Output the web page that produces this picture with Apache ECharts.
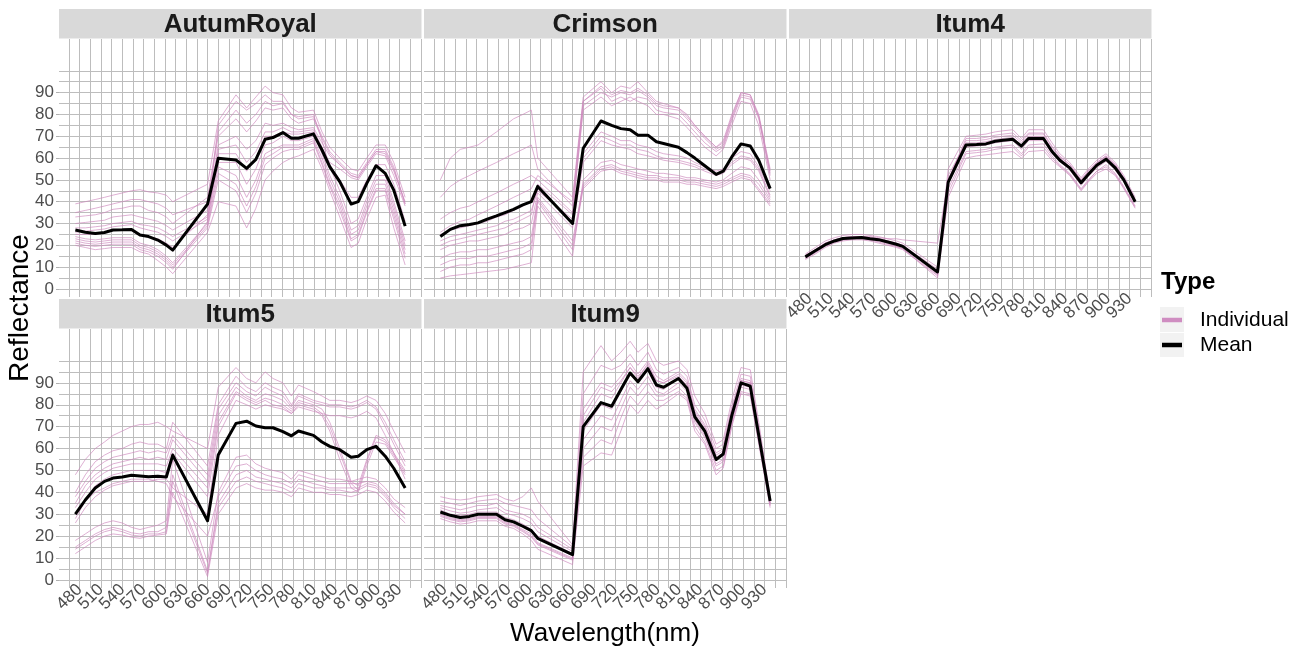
<!DOCTYPE html>
<html><head><meta charset="utf-8">
<script src="https://cdn.jsdelivr.net/npm/echarts@6/dist/echarts.min.js"></script>
<style>html,body{margin:0;padding:0;background:#fff}#c{width:1305px;height:652px}</style>
</head><body><div id="c"></div>
<script>
// ---------- data ----------
const wavelengths = [474, 488, 502, 515, 527, 540, 553, 565, 577, 590, 602, 611, 660, 675, 700, 715, 728, 741, 752, 766, 778, 788, 809, 821, 832, 846, 862, 872, 884, 897, 910, 922, 938];
const panelNames = ['AutumRoyal', 'Crimson', 'Itum4', 'Itum5', 'Itum9'];
const xTickLabelsA = [480, 540, 600, 660, 720, 780, 840, 900];
const xTickLabelsB = [510, 570, 630, 690, 750, 810, 870, 930];
const xGridValues = [465, 480, 495, 510, 525, 540, 555, 570, 585, 600, 615, 630, 645, 660, 675, 690, 705, 720, 735, 750, 765, 780, 795, 810, 825, 840, 855, 870, 885, 900, 915, 930, 945, 960];
const yTickLabels = [0, 10, 20, 30, 40, 50, 60, 70, 80, 90];
const yGridValues = [0, 5, 10, 15, 20, 25, 30, 35, 40, 45, 50, 55, 60, 65, 70, 75, 80, 85, 90, 95, 100];

const meanAutumRoyal = [27, 26, 25.4, 25.9, 27, 27.1, 27.3, 24.7, 24, 22.4, 20.1, 17.8, 38.9, 59.9, 59.1, 55.3, 59.4, 68.6, 69.4, 71.7, 69.1, 69.1, 71.1, 63.7, 56, 49.2, 38.9, 40, 48.4, 56.5, 53, 45.3, 28.8];
const meanCrimson = [24, 27.3, 29, 29.5, 30.3, 32, 33.5, 35, 36.5, 38.5, 40, 47, 30, 64.5, 77, 75, 73.5, 73, 70.5, 70.5, 67.5, 66.7, 65, 62.5, 60, 56.5, 52.5, 54, 60.5, 66.5, 65.5, 59, 46];
const meanItum4 = [14.7, 17.5, 20.3, 22, 23.1, 23.4, 23.6, 23, 22.6, 21.5, 20.5, 19.5, 7.8, 49, 66, 66.2, 66.5, 67.7, 68.2, 68.6, 65.5, 69, 69, 63, 59, 55.5, 48.7, 52.5, 56.7, 59.5, 55.5, 50, 40];
const meanItum5 = [30, 36.5, 42, 45, 46.5, 47, 47.8, 47.5, 47.1, 47.3, 47, 57, 27, 57, 71.5, 72.5, 70.3, 69.5, 69.5, 67.7, 65.8, 68, 66, 63, 61, 59.5, 56, 56.5, 59.5, 61, 56.5, 51, 42];
const meanItum9 = [31, 29.5, 28.5, 29, 30, 30, 30, 27.5, 26.5, 24.5, 22.5, 19, 11.5, 70, 81, 79.3, 87, 94.5, 90.5, 96.5, 89, 88, 92, 87.5, 74.5, 68, 55, 57.5, 75, 90, 88.5, 66, 36];

const indivAutumRoyal = [
  [39, 40, 41, 42, 43, 44, 45, 45.5, 44.5, 44, 43, 40, 48, 77, 89, 83, 88, 93, 90, 89, 83, 81, 82, 72, 65, 60, 55, 54, 60, 66, 66, 58, 42],
  [33, 33.5, 34, 35, 36.5, 37, 38, 38, 36, 35, 33, 30, 42, 72, 82, 76, 80, 86, 84, 85, 80, 78, 79, 70, 63, 58, 53, 52, 58, 64, 64, 56, 39],
  [30, 30.5, 31, 31.5, 33, 33.5, 34, 33, 32, 31, 29, 27, 36, 66, 70, 64, 68, 76, 75, 76, 74, 73, 74, 67, 61, 57, 52, 51, 57, 63, 62, 54, 40],
  [28, 28, 28.5, 29, 30, 30.5, 31, 29.5, 29, 28, 26, 24, 33, 58, 58, 48, 55, 66, 67, 70, 68, 68, 70, 64, 58, 55, 51, 50, 56, 62, 61, 52, 38],
  [24, 23, 22.5, 23, 23.5, 23.5, 23.5, 21, 20, 18, 15, 12, 30, 56, 52, 42, 50, 62, 64, 66, 66, 66, 69, 60, 50, 40, 25, 27, 38, 48, 48, 36, 18],
  [22, 21, 20.5, 21, 21.5, 21.5, 21.5, 19, 18, 16, 13, 10, 28, 50, 45, 35, 44, 57, 60, 63, 64, 64, 67, 57, 47, 36, 22, 24, 35, 45, 45, 32, 14],
  [20, 19, 18, 18.5, 19, 19, 19, 17, 16, 13, 10, 7, 26, 40, 38, 28, 37, 50, 54, 58, 60, 61, 64, 55, 45, 33, 19, 21, 32, 42, 43, 28, 11],
  [25, 25, 25, 26, 27, 27, 27, 25, 24, 23, 21, 19, 34, 75, 86, 82, 85, 89, 86, 86, 80, 79, 80, 68, 56, 45, 30, 32, 42, 52, 52, 40, 22],
  [21, 20, 19.5, 20, 20.5, 20.5, 20.5, 18, 17, 15, 12, 9, 31, 62, 62, 54, 60, 70, 70, 72, 71, 71, 72, 62, 52, 42, 27, 29, 40, 50, 50, 38, 20],
  [23, 22, 21.5, 22, 22.5, 22.5, 22.5, 20, 19, 17, 14, 11, 29, 53, 48, 38, 47, 60, 62, 65, 65, 65, 68, 58, 48, 38, 23, 25, 36, 46, 46, 34, 16],
  [35, 36, 37, 38, 39, 40, 41, 41, 40, 39, 37, 34, 40, 70, 78, 72, 77, 83, 82, 83, 78, 76, 78, 69, 62, 57, 52, 51, 57, 63, 63, 55, 39],
  [26, 26.5, 27, 27.5, 28.5, 29, 29.5, 28, 27, 26, 24, 22, 32, 64, 66, 58, 63, 72, 72, 74, 72, 72, 73, 65, 57, 50, 42, 42, 50, 57, 57, 48, 31]
];
const indivCrimson = [
  [50, 60, 64, 65, 66, 69, 72, 75, 78, 80, 82, 60, 42, 88, 95, 90, 93, 92, 95, 90, 86, 85, 83, 80, 75, 70, 65, 68, 80, 90, 89, 80, 55],
  [42, 47, 50, 52, 54, 56, 58, 60, 62, 64, 66, 55, 38, 86, 92, 86, 88, 86, 88, 87, 82, 81, 80, 76, 72, 67, 63, 65, 77, 88, 87, 78, 52],
  [32, 35, 37, 38, 40, 42, 44, 46, 48, 50, 52, 50, 35, 82, 88, 84, 86, 88, 86, 84, 80, 80, 78, 74, 70, 65, 61, 64, 75, 86, 85, 75, 50],
  [25, 27, 28, 29, 30, 31, 33, 34, 36, 38, 40, 46, 30, 62, 72, 70, 68, 68, 66, 65, 63, 62, 61, 60, 58, 56, 54, 55, 60, 63, 62, 56, 45],
  [18, 20, 21, 22, 22, 23, 24, 25, 27, 28, 30, 44, 28, 58, 68, 66, 65, 64, 62, 61, 60, 59, 58, 57, 56, 54, 52, 53, 57, 60, 59, 54, 42],
  [14, 16, 17, 17, 18, 18, 19, 20, 21, 22, 24, 42, 22, 48, 56, 57, 55, 54, 53, 52, 52, 51, 51, 50, 50, 49, 48, 49, 51, 53, 52, 48, 40],
  [8, 10, 11, 11, 12, 12, 13, 14, 15, 16, 18, 40, 18, 46, 54, 55, 53, 52, 51, 50, 50, 49, 49, 48, 48, 47, 46, 47, 49, 51, 50, 45, 38],
  [5, 6, 6.5, 7, 7.5, 8, 8.5, 9, 10, 11, 12, 38, 15, 50, 58, 59, 57, 56, 55, 54, 53, 53, 52, 51, 51, 50, 49, 50, 53, 56, 55, 50, 41],
  [20, 22, 23, 24, 25, 26, 27, 28, 30, 32, 34, 48, 34, 84, 90, 88, 90, 89, 91, 88, 84, 83, 82, 78, 74, 69, 64, 66, 78, 89, 88, 79, 53],
  [11, 13, 14, 14, 15, 15, 16, 17, 18, 19, 21, 41, 20, 47, 55, 56, 54, 53, 52, 51, 51, 50, 50, 49, 49, 48, 47, 48, 50, 52, 51, 46, 39],
  [22, 24, 25, 26, 27, 28, 29, 31, 32, 34, 36, 45, 32, 60, 70, 68, 66, 66, 64, 63, 61, 60, 59, 58, 57, 55, 53, 54, 58, 61, 60, 55, 43],
  [26, 29, 31, 32, 34, 36, 38, 40, 42, 44, 46, 52, 40, 86, 93, 89, 91, 90, 92, 89, 85, 84, 83, 79, 75, 70, 65, 67, 79, 90, 89, 79, 54]
];
const indivItum4 = [
  [16, 19, 22, 23.5, 24.5, 25, 25, 24.5, 24, 23, 22, 21, 10, 55, 70, 70.5, 71, 72, 72.5, 73, 69, 73, 73, 67, 62, 58, 51, 55, 59, 62, 58, 52, 42],
  [13.5, 16, 19, 21, 22, 22.5, 22.5, 22, 21, 20, 19, 18, 6, 46, 63, 63.5, 64, 65, 65.5, 66, 62, 66, 66.5, 61, 57, 53, 46, 50, 54, 57, 53, 47, 38],
  [14, 17, 20, 21.5, 22.5, 23, 23, 22.5, 22, 21, 19.5, 18.5, 5, 42, 60, 61, 61.5, 62, 62.5, 63, 60, 63, 63.5, 59, 56, 52, 45, 49, 53, 55, 52, 46, 37],
  [15, 18, 21, 22.5, 23.5, 24, 24, 24, 23.5, 23, 23, 22.5, 21, 50, 68, 68, 68.5, 69.5, 70, 70.5, 67, 71, 71, 65, 60.5, 57, 50, 54, 58, 61, 57, 51, 41],
  [15.5, 18, 21, 22.5, 23.5, 24, 24, 23.5, 23, 22, 21, 20, 9, 52, 67, 67, 67.5, 68.5, 69, 69.5, 66, 70, 70, 64, 60, 56, 49, 53, 57.5, 60.5, 56.5, 50.5, 40.5],
  [14.5, 17.5, 20.5, 22, 23, 23.5, 23.5, 23, 22.5, 21.5, 20.5, 19.5, 7, 48, 65, 65.5, 66, 67, 67.5, 68, 64, 68, 68, 62, 58.5, 54.5, 47.5, 51.5, 55.5, 58.5, 54.5, 49, 39.5],
  [15, 18, 21, 22.5, 23.5, 24, 24, 23.5, 23, 22, 21, 20, 8, 50, 69, 69, 69.5, 70.5, 71, 71.5, 68, 71.5, 71.5, 65.5, 61, 57, 50, 54, 58, 61, 57, 51, 41],
  [14, 16.5, 19.5, 21.5, 22.5, 23, 23, 22.5, 21.5, 20.5, 19.5, 18.5, 6.5, 44, 62, 62.5, 63, 64, 64.5, 65, 61, 65, 65, 60, 56.5, 52.5, 45.5, 49.5, 54, 56, 52.5, 46.5, 37.5]
];
const indivItum5 = [
  [48, 55, 60, 63, 66, 68, 70, 71, 71, 72, 70, 68, 60, 88, 97, 92, 90, 95, 92, 90, 84, 89, 86, 84, 82, 82, 81, 82, 84, 82, 76, 68, 58],
  [40, 48, 54, 57, 59, 60, 62, 63, 62, 62, 60, 72, 52, 80, 93, 88, 86, 90, 88, 86, 80, 85, 82, 81, 80, 80, 79, 80, 82, 79, 72, 64, 54],
  [35, 43, 48, 51, 53, 54, 55, 56, 55, 56, 55, 64, 45, 75, 88, 84, 82, 85, 84, 82, 78, 82, 80, 78, 72, 60, 45, 43, 55, 66, 64, 58, 50],
  [30, 37, 43, 46, 48, 49, 50, 50, 50, 50, 49, 58, 38, 70, 85, 82, 80, 82, 80, 79, 76, 80, 78, 75, 68, 55, 42, 40, 52, 63, 62, 56, 48],
  [26, 33, 38, 41, 43, 44, 45, 45, 45, 46, 46, 42, 30, 66, 82, 80, 78, 80, 79, 78, 76, 79, 77, 76, 75, 75, 74, 75, 77, 74, 66, 58, 46],
  [18, 21, 24, 26, 27, 26, 24, 23, 24, 25, 27, 55, 8, 40, 56, 57, 53, 51, 50, 49, 46, 50, 48, 47, 46, 46, 45, 46, 47, 46, 42, 37, 33],
  [15, 18, 21, 23, 24, 23, 21.5, 21, 22, 22, 24, 48, 4, 35, 48, 50, 47, 46, 45, 44, 42, 46, 44, 43, 42, 42, 42, 42, 44, 43, 39, 34, 30],
  [12, 15, 18, 20, 21, 20.5, 19.5, 19, 20, 20.5, 21, 40, 1.5, 30, 42, 44, 42, 41, 41, 40, 38, 42, 40, 40, 39, 39, 38, 39, 41, 40, 36, 31, 26],
  [28, 36, 40, 42, 44, 45, 46, 46, 46, 45, 44, 38, 20, 38, 52, 53, 50, 48, 47, 46, 44, 48, 46, 45, 44, 44, 44, 44, 45, 44, 40, 35, 30],
  [14, 17, 20, 22, 23, 22, 20.5, 20, 21, 21, 22, 45, 3, 33, 45, 47, 45, 44, 43, 42, 40, 44, 42, 42, 41, 41, 40, 41, 43, 42, 38, 33, 28],
  [38, 45, 51, 54, 56, 57, 58, 59, 58, 59, 58, 66, 48, 78, 90, 86, 84, 88, 86, 84, 79, 84, 81, 80, 79, 79, 78, 79, 81, 78, 70, 62, 52],
  [33, 40, 46, 49, 51, 52, 53, 53, 53, 53, 52, 60, 42, 72, 86, 83, 81, 83, 82, 80, 77, 81, 79, 76, 70, 58, 44, 41, 54, 65, 63, 57, 49]
];
const indivItum9 = [
  [38, 37, 36.5, 37, 38, 38.5, 39, 37, 36, 38, 42, 36, 16, 95, 107, 100, 104, 109, 104, 108, 100, 98, 100, 96, 84, 76, 62, 64, 82, 97, 96, 72, 38],
  [34, 33, 32, 33, 34, 34, 35, 32, 31, 30, 28, 24, 14, 85, 98, 96, 98, 103, 98, 104, 96, 94, 97, 93, 80, 73, 60, 62, 79, 94, 93, 70, 37],
  [32, 30, 29.5, 30, 31, 31, 31, 28.5, 27.5, 25.5, 23, 20, 12, 78, 90, 88, 93, 99, 94, 100, 93, 91, 95, 91, 78, 71, 58, 60, 78, 92, 91, 68, 36],
  [30, 28.5, 27.5, 28, 29, 29, 29, 26.5, 25.5, 23, 21, 17, 10, 68, 80, 78, 86, 94, 90, 96, 88, 87, 92, 88, 75, 68, 55, 57, 75, 90, 89, 66, 35],
  [29, 27.5, 26.5, 27, 28, 28, 28, 25.5, 24.5, 22, 19.5, 16, 9, 60, 70, 68, 78, 88, 84, 90, 84, 84, 88, 84, 72, 65, 52, 54, 72, 88, 87, 64, 34],
  [28, 26.5, 25.5, 26, 27, 27, 27, 24.5, 23.5, 21, 18, 14, 7, 52, 58, 57, 68, 80, 76, 82, 78, 80, 85, 82, 68, 62, 48, 51, 70, 85, 84, 62, 33],
  [36, 35, 34, 35, 36, 36.5, 37, 35, 34, 33, 32, 28, 15, 72, 85, 83, 90, 97, 92, 99, 91, 90, 94, 90, 77, 70, 57, 59, 77, 91, 90, 67, 36],
  [31, 29.5, 28.5, 29, 30, 30, 30, 27.5, 26.5, 24, 22, 19, 11, 56, 64, 62, 74, 84, 80, 86, 82, 82, 86, 83, 70, 63, 50, 52, 71, 86, 85, 63, 34],
  [33, 31.5, 30.5, 31, 32, 32.5, 33, 30.5, 29.5, 28, 26, 22, 13, 75, 88, 86, 91, 97, 93, 98, 91, 90, 93, 89, 76, 69, 56, 58, 76, 91, 90, 67, 35],
  [29.5, 28, 27, 27.5, 28.5, 28.5, 28.5, 26, 25, 22.5, 20, 16.5, 9.5, 64, 75, 73, 82, 91, 87, 93, 86, 85, 90, 86, 73, 66, 53, 55, 73, 89, 88, 65, 35]
];

const panelMeans = [meanAutumRoyal, meanCrimson, meanItum4, meanItum5, meanItum9];
const panelIndividuals = [indivAutumRoyal, indivCrimson, indivItum4, indivItum5, indivItum9];

// ---------- layout / style ----------
const FONT = "'Liberation Sans', Arial, Helvetica, sans-serif";
const colLeft = [59, 424, 789];
const colWidth = 362.5;
const rowTop = [39, 329];
const rowHeight = [258, 259];
const stripTop = [9, 299];
const stripHeight = [29.5, 29.5];
const panelPos = [[0, 0], [0, 1], [0, 2], [1, 0], [1, 1]]; // [row, col]
const showYLabels = [true, false, false, true, false];
const showXLabels = [false, false, true, true, true];
const X_MIN = 451, X_MAX = 961, Y_MIN = -3.7, Y_MAX = 114.6;
const GRID_COLOR = '#bdbdbd';
const PINK = '#cc86bc';

const pairs = vals => wavelengths.map((w, k) => [w, vals[k]]);

const grids = [], xAxes = [], yAxes = [], series = [], graphics = [];
const labelAxis = (i, values) => ({
  type: 'value', gridIndex: i, min: X_MIN, max: X_MAX, position: 'bottom',
  axisLine: { show: false },
  axisTick: { show: false, customValues: values },
  axisLabel: { show: showXLabels[i], customValues: values, rotate: 45, margin: -1,
    showMinLabel: true, showMaxLabel: true, hideOverlap: false,
    fontSize: 17, color: '#4d4d4d', fontFamily: FONT },
  splitLine: { show: false }
});
panelNames.forEach((name, i) => {
  const [r, c] = panelPos[i];
  grids.push({ left: colLeft[c], top: rowTop[r], width: colWidth, height: rowHeight[r], containLabel: false });
  xAxes.push(labelAxis(i, xTickLabelsA));
  xAxes.push(labelAxis(i, xTickLabelsB));
  xAxes.push({
    type: 'value', gridIndex: i, min: X_MIN, max: X_MAX, position: 'top',
    axisLine: { show: false }, axisLabel: { show: false },
    axisTick: { show: false, customValues: xGridValues },
    splitLine: { show: true, lineStyle: { color: GRID_COLOR, width: 1 } }
  });
  yAxes.push({
    type: 'value', gridIndex: i, min: Y_MIN, max: Y_MAX, position: 'left',
    axisLine: { show: false },
    axisTick: { show: showYLabels[i], customValues: yTickLabels, length: 3, lineStyle: { color: '#b0b0b0', width: 1 } },
    axisLabel: { show: showYLabels[i], customValues: yTickLabels, margin: 5,
      showMinLabel: true, showMaxLabel: true,
      fontSize: 17, color: '#4d4d4d', fontFamily: FONT },
    splitLine: { show: false }
  });
  yAxes.push({
    type: 'value', gridIndex: i, min: Y_MIN, max: Y_MAX, position: 'right',
    axisLine: { show: false }, axisLabel: { show: false },
    axisTick: { show: false, customValues: yGridValues },
    splitLine: { show: true, lineStyle: { color: GRID_COLOR, width: 1 } }
  });
  panelIndividuals[i].forEach(vals => {
    series.push({
      type: 'line', name: 'Individual', xAxisIndex: 3 * i, yAxisIndex: 2 * i,
      data: pairs(vals), symbol: 'none', silent: true, z: 2,
      itemStyle: { color: PINK },
      lineStyle: { color: PINK, width: 1, opacity: 0.65 }
    });
  });
  series.push({
    type: 'line', name: 'Mean', xAxisIndex: 3 * i, yAxisIndex: 2 * i,
    data: pairs(panelMeans[i]), symbol: 'none', silent: true, z: 3,
    itemStyle: { color: '#000' },
    lineStyle: { color: '#000', width: 3, join: 'round' }
  });
  graphics.push({
    type: 'rect', silent: true, z: 0,
    shape: { x: colLeft[c], y: stripTop[r], width: colWidth, height: stripHeight[r] },
    style: { fill: '#d9d9d9' }
  });
  graphics.push({
    type: 'text', silent: true, z: 1,
    x: colLeft[c] + colWidth / 2, y: stripTop[r] + stripHeight[r] / 2 + 1,
    style: { text: name, fill: '#1a1a1a', font: 'bold 26px ' + FONT, textAlign: 'center', textVerticalAlign: 'middle' }
  });
});

graphics.push({
  type: 'text', silent: true, x: 20, y: 308, rotation: Math.PI / 2,
  style: { text: 'Reflectance', fill: '#000', font: '28px ' + FONT, textAlign: 'center', textVerticalAlign: 'middle' }
});
graphics.push({
  type: 'text', silent: true, x: 605, y: 634,
  style: { text: 'Wavelength(nm)', fill: '#000', font: '26px ' + FONT, textAlign: 'center', textVerticalAlign: 'middle' }
});
graphics.push({
  type: 'text', silent: true, x: 1161, y: 282,
  style: { text: 'Type', fill: '#000', font: 'bold 24px ' + FONT, textAlign: 'left', textVerticalAlign: 'middle' }
});
graphics.push({ type: 'rect', silent: true, z: 0, shape: { x: 1160, y: 307, width: 24, height: 25 }, style: { fill: '#f2f2f2' } });
graphics.push({ type: 'rect', silent: true, z: 0, shape: { x: 1160, y: 333, width: 24, height: 24 }, style: { fill: '#f2f2f2' } });

const option = {
  animation: false,
  backgroundColor: '#ffffff',
  grid: grids,
  xAxis: xAxes,
  yAxis: yAxes,
  series: series,
  legend: {
    orient: 'vertical', left: 1162, top: 307.5, padding: 0,
    icon: 'rect', itemWidth: 20, itemHeight: 4.5, itemGap: 0,
    selectedMode: false,
    data: [
      { name: 'Individual', itemStyle: { color: '#cf8dc1', opacity: 1 } },
      { name: 'Mean', itemStyle: { color: '#000' } }
    ],
    textStyle: { fontSize: 21, color: '#000', fontFamily: FONT, lineHeight: 25, padding: [0, 0, 0, 13] }
  },
  graphic: graphics
};
const chart = echarts.init(document.getElementById('c'), null, { renderer: 'canvas' });
chart.setOption(option);
</script>
</body></html>
